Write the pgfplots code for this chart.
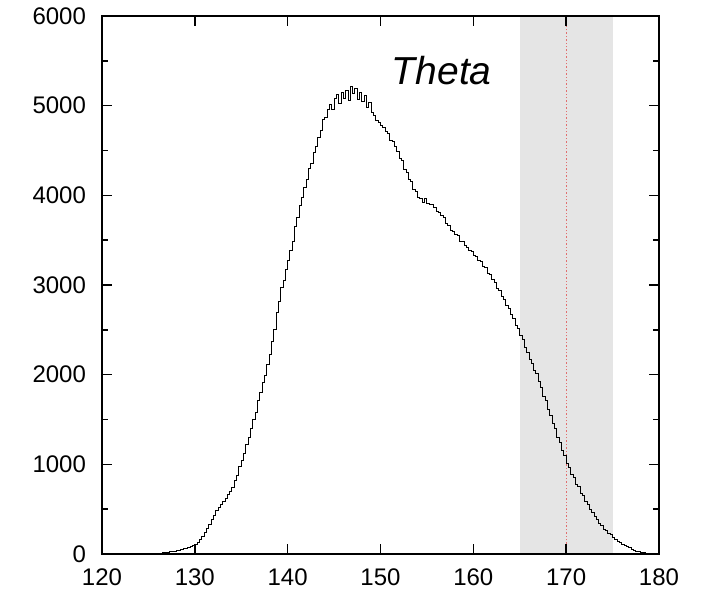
\documentclass[border=0pt]{standalone}
\usepackage{fontspec}
\setmainfont{Liberation Sans}
\usepackage{pgfplots}
\pgfplotsset{compat=1.18}
\definecolor{bandgray}{RGB}{229,229,229}
\definecolor{cutred}{RGB}{225,110,110}

\begin{document}
\begin{tikzpicture}
\begin{axis}[scale only axis, width=278.5pt, height=269pt,
  xmin=120, xmax=180, ymin=0, ymax=6000,
  xtick={120,130,...,180}, ytick={0,1000,...,6000},
  minor y tick num=1,
  tick align=inside, major tick length=5pt, minor tick length=3pt,
  axis line style={line width=0.9pt}, every tick/.style={line width=0.7pt, black},
  tick label style={font=\fontsize{12}{14}\selectfont},
  /pgf/number format/assume math mode=true,
  /pgf/number format/1000 sep={},
  yticklabel style={xshift=-4.5pt}, xticklabel style={yshift=-4pt},
  axis on top, clip=true]
\fill[bandgray] (axis cs:165,0) rectangle (axis cs:175,6000);
\draw[cutred, line width=0.5pt, dash pattern=on 0.7pt off 1pt] (axis cs:170,0) -- (axis cs:170,6000);
\addplot[const plot mark left, black, line width=0.5pt] coordinates {
(124,1)(124.25,2)(124.5,2)(124.75,3)(125,4)(125.25,5)(125.5,6)(125.75,8)
(126,9)(126.25,11)(126.5,14)(126.75,17)(127,20)(127.25,24)(127.5,28)(127.75,33)
(128,38)(128.25,44)(128.5,52)(128.75,58)(129,66)(129.25,74)(129.5,85)(129.75,95)
(130,108)(130.25,130)(130.5,160)(130.75,195)(131,240)(131.25,285)(131.5,330)(131.75,385)
(132,430)(132.25,480)(132.5,515)(132.75,555)(133,585)(133.25,620)(133.5,665)(133.75,700)
(134,745)(134.25,820)(134.5,880)(134.75,975)(135,1040)(135.25,1120)(135.5,1220)(135.75,1300)
(136,1400)(136.25,1500)(136.5,1580)(136.75,1710)(137,1800)(137.25,1910)(137.5,1990)(137.75,2110)
(138,2220)(138.25,2370)(138.5,2500)(138.75,2690)(139,2820)(139.25,2970)(139.5,3050)(139.75,3170)
(140,3270)(140.25,3380)(140.5,3490)(140.75,3650)(141,3750)(141.25,3890)(141.5,3980)(141.75,4090)
(142,4180)(142.25,4300)(142.5,4360)(142.75,4480)(143,4540)(143.25,4650)(143.5,4720)(143.75,4850)
(144,4870)(144.25,4960)(144.5,5010)(144.75,4960)(145,5080)(145.25,5120)(145.5,5020)(145.75,5150)
(146,5080)(146.25,5170)(146.5,5060)(146.75,5210)(147,5140)(147.25,5190)(147.5,5070)(147.75,5150)
(148,5050)(148.25,5110)(148.5,4980)(148.75,5030)(149,4920)(149.25,4890)(149.5,4840)(149.75,4810)
(150,4780)(150.25,4760)(150.5,4710)(150.75,4690)(151,4610)(151.25,4600)(151.5,4540)(151.75,4490)
(152,4410)(152.25,4390)(152.5,4290)(152.75,4250)(153,4180)(153.25,4150)(153.5,4070)(153.75,4040)
(154,3980)(154.25,3960)(154.5,3920)(154.75,3970)(155,3910)(155.25,3900)(155.5,3900)(155.75,3860)
(156,3820)(156.25,3810)(156.5,3770)(156.75,3750)(157,3690)(157.25,3660)(157.5,3610)(157.75,3600)
(158,3560)(158.25,3550)(158.5,3490)(158.75,3490)(159,3440)(159.25,3420)(159.5,3380)(159.75,3370)
(160,3330)(160.25,3320)(160.5,3270)(160.75,3260)(161,3210)(161.25,3190)(161.5,3130)(161.75,3120)
(162,3060)(162.25,3030)(162.5,2960)(162.75,2940)(163,2870)(163.25,2840)(163.5,2770)(163.75,2740)
(164,2670)(164.25,2630)(164.5,2550)(164.75,2520)(165,2440)(165.25,2390)(165.5,2300)(165.75,2250)
(166,2170)(166.25,2130)(166.5,2050)(166.75,2010)(167,1920)(167.25,1860)(167.5,1760)(167.75,1710)
(168,1610)(168.25,1550)(168.5,1450)(168.75,1400)(169,1300)(169.25,1240)(169.5,1150)(169.75,1100)
(170,1010)(170.25,970)(170.5,890)(170.75,850)(171,780)(171.25,750)(171.5,680)(171.75,650)
(172,580)(172.25,555)(172.5,495)(172.75,465)(173,415)(173.25,390)(173.5,340)(173.75,315)
(174,275)(174.25,260)(174.5,228)(174.75,212)(175,188)(175.25,167)(175.5,143)(175.75,127)
(176,108)(176.25,96)(176.5,79)(176.75,69)(177,54)(177.25,43)(177.5,32)(177.75,24)
(178,18)(178.25,12)(178.5,8)(178.75,5)(179,3)(179.25,1)(179.5,0)(180,0)
};
\node[font=\fontsize{19.5}{22}\selectfont\itshape, anchor=base] at (axis cs:156.6,5240) {Theta};
\end{axis}
\path (current axis.south west) ++(-51pt,-20.5pt) (current axis.north east) ++(23pt,8pt);
\end{tikzpicture}
\end{document}
